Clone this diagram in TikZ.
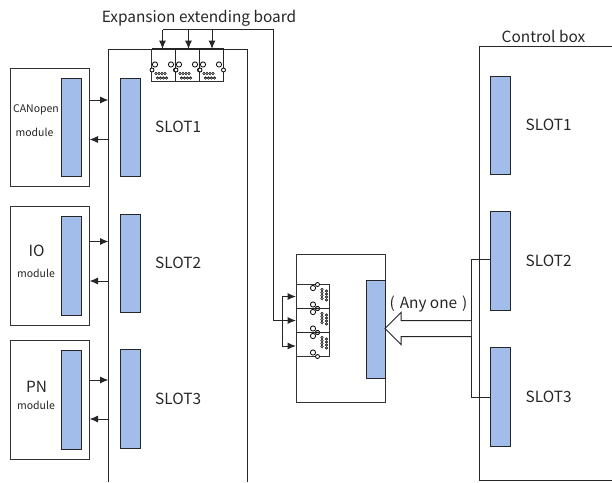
\documentclass[tikz,border=0pt]{standalone}
\usepackage{fontspec}
\setmainfont{Noto Sans CJK SC}
\usepackage{xcolor}
\usetikzlibrary{arrows.meta, positioning, shapes.geometric, calc}
\definecolor{slotcolor}{HTML}{A3BDEB}
\definecolor{framecolor}{HTML}{333333}
\tikzset{
  panel/.style={draw=framecolor, line width=1pt, fill=white, inner sep=0pt, outer sep=0pt, anchor=north west},
  slotbar/.style={draw=black!85, line width=1pt, fill=slotcolor, minimum width=20pt, minimum height=98.5pt, inner sep=0pt, outer sep=0pt, anchor=north west},
  slotlabel/.style={font=\fontsize{15.4}{17}\selectfont, text=black!85, inner sep=0pt},
  modlabel/.style={font=\fontsize{10.5}{12}\selectfont, text=black!85, inner sep=0pt},
  wire/.style={draw=black!85, line width=1pt},
  tiparrow/.style={wire, -{Latex[length=8.5pt,width=7pt]}},
  pin/.style={draw=black, line width=0.8pt, fill=white},
  dot/.style={draw=black, line width=0.6pt, fill=white}
}
\newcommand{\pinrow}[2]{
  \foreach \k in {0,...,3}
  {
    \draw[dot] (#1+\k*3, #2) circle (1.2pt);
    \draw[dot] (#1+1.5+\k*3, #2+4.6) circle (1.2pt);
  }
}
\newcommand{\pincol}[2]{
  \foreach \k in {0,...,3}
  {
    \draw[dot] (#1, #2+\k*3) circle (1.2pt);
    \draw[dot] (#1+4.6, #2+1.5+\k*3) circle (1.2pt);
  }
}
\begin{document}
\begin{tikzpicture}[x=1pt, y=-1pt]
  \useasboundingbox (0,0) rectangle (612,482);
  % left rack, open at the bottom
  \coordinate (rackBL) at (108.5,482);
  \coordinate (rackTL) at (108.5,49);
  \coordinate (rackTR) at (247.5,49);
  \coordinate (rackBR) at (247.5,482);
  \draw[wire] (rackBL) -- (rackTL) -- (rackTR) -- (rackBR);
  % right control box
  \coordinate (ctrlBL) at (479.5,480);
  \coordinate (ctrlTL) at (479.5,46.5);
  \coordinate (ctrlTR) at (612,46.5);
  \coordinate (ctrlBR) at (612,480);
  \draw[wire] (ctrlBR) -- (ctrlBL) -- (ctrlTL) -- (ctrlTR);
  \node[slotlabel] (ctrlname) at (543.5,36.5) {Control box};
  % slots
  \foreach \n/\ya/\yb/\yc/\yi/\yo in {
    1/78/76/68/100/139.5,
    2/214/211.5/206.5/241.5/281,
    3/349.5/347.5/340.5/380/419}
  {
    \node[slotbar] (rack\n) at (120,\ya) {};
    \node[slotbar] (ctrl\n) at (490.5,\yb) {};
    \node[slotlabel, right=15pt of rack\n] (racklabel\n) {SLOT\n};
    \node[slotlabel, right=15pt of ctrl\n] (ctrllabel\n) {SLOT\n};
    \node[panel, minimum width=79.5pt, minimum height=118.5pt] (mod\n) at (10,\yc) {};
    \node[slotbar] (modslot\n) at (61,\yc+10) {};
    \coordinate (in\n) at (mod\n.east |- 0,\yi);
    \coordinate (out\n) at (mod\n.east |- 0,\yo);
    \draw[tiparrow] (in\n) -- (in\n -| rackTL);
    \draw[tiparrow] (out\n -| rackTL) -- (out\n);
  }
  \node[modlabel] (canname) at (36,110) {CANopen};
  \node[modlabel] (canmod) at (34.5,132) {module};
  \node[slotlabel] (ioname) at (36.5,250.5) {IO};
  \node[modlabel] (iomod) at (36,273) {module};
  \node[slotlabel] (pnname) at (36.5,386.5) {PN};
  \node[modlabel] (pnmod) at (36,405.5) {module};
  % expansion board on the rack
  \node[slotlabel] (boardname) at (199,18) {Expansion extending board};
  \node[panel, minimum width=72pt, minimum height=32pt] (extboard) at (151.5,49) {};
  \foreach \n in {0,1,2}
  {
    \coordinate (cell\n) at (151.5+\n*24,49);
    \draw[wire] ($(cell\n)+(24,0)$) -- ($(cell\n)+(24,32)$);
    \draw[pin] ($(cell\n)+(3.5,15.5)$) circle (2.6pt);
    \draw[pin] ($(cell\n)+(19.5,15.5)$) circle (2.6pt);
    \draw[pin] ($(cell\n)+(0.5,21)$) circle (2pt);
    \draw[pin] ($(cell\n)+(24,21)$) circle (2pt);
    \pinrow{151.5+\n*24+4.5}{73.5}
  }
  \draw[wire, line width=1.4pt] (extboard.north west) -- (extboard.north east);
  % feed line to the expansion boards
  \coordinate (busA) at (162.5,29.5);
  \coordinate (busB) at (188.5,49);
  \coordinate (busC) at (212,49);
  \coordinate (busD) at (273.5,29.5);
  \coordinate (busE) at (273.5,320.5);
  \node[panel, minimum width=89pt, minimum height=148pt] (midbox) at (296,254) {};
  \node[panel, minimum width=33pt, minimum height=72pt] (vboard) at (296,284.5) {};
  \foreach \n in {0,1,2}
  {
    \coordinate (row\n) at (296,284.5+\n*24);
    \draw[pin] ($(row\n)+(17,3.5)$) circle (2.6pt);
    \draw[pin] ($(row\n)+(17,20)$) circle (2.6pt);
    \draw[pin] ($(row\n)+(21.5,0)$) circle (2pt);
    \draw[pin] ($(row\n)+(21.5,24)$) circle (2pt);
    \pincol{322}{284.5+\n*24+5}
  }
  \draw[wire] (296,308.5) -- (329,308.5);
  \draw[wire] (296,332.5) -- (329,332.5);
  \node[slotbar, minimum width=18.5pt] (midslot) at (366.5,280) {};
  \draw[tiparrow] (busA) -- (busA |- extboard.north);
  \draw[tiparrow] (busA -| busB) -- (busB);
  \draw[tiparrow] (busA -| busC) -- (busC);
  \draw[tiparrow] (busA) -- (busD) -- (busE) -- (busE -| midbox.west);
  \coordinate (branchU) at (282,296.5);
  \coordinate (branchD) at (282,346);
  \draw[wire] (branchU) -- (branchD);
  \draw[tiparrow] (branchU) -- (branchU -| midbox.west);
  \draw[tiparrow] (branchD) -- (branchD -| midbox.west);
  % arrow from the control box
  \coordinate (selTop) at (471,259.5);
  \coordinate (selBot) at (471,397);
  \draw[wire] (ctrl2.west |- selTop) -- (selTop) -- (selBot) -- (ctrl3.west |- selBot);
  \draw[wire, fill=white] (471,320.5) -- (401,320.5) -- (401,312.5) -- (385,328.5) -- (401,344.5) -- (401,336.5) -- (471,336.5);
  \node[slotlabel] (anyone) at (428.5,303.5) {(\hspace{1.5pt} Any one\hspace{1.5pt} )};
\end{tikzpicture}
\end{document}
